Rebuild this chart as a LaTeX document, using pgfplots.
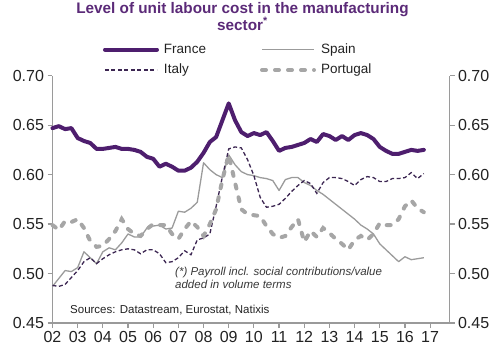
\documentclass[border=0pt]{standalone}
\usepackage{pgfplots}
\pgfplotsset{compat=1.18}
\usepackage{fontspec}
\setmainfont{Liberation Sans}
\definecolor{titlecol}{HTML}{5B2A78}
\definecolor{frcol}{HTML}{4E1E6E}
\definecolor{itcol}{HTML}{3C2652}
\definecolor{escol}{HTML}{9B9B9B}
\definecolor{ptcol}{HTML}{A6A6A6}
\definecolor{axcol}{HTML}{9A9A9A}
\definecolor{txtcol}{HTML}{222222}
\begin{document}
\begin{tikzpicture}
\path[use as bounding box] (-52.5pt,-34pt) rectangle (447.5pt,323pt);
\begin{axis}[
  at={(0pt,0pt)}, anchor=south west,
  scale only axis, width=397pt, height=247.3pt,
  xmin=2002, xmax=2017.77, ymin=0.45, ymax=0.70,
  axis x line*=bottom, axis y line*=left,
  axis line style={color=axcol, line width=1.2pt},
  xtick={2002,2003,2004,2005,2006,2007,2008,2009,2010,2011,2012,2013,2014,2015,2016,2017},
  xticklabels={02,03,04,05,06,07,08,09,10,11,12,13,14,15,16,17},
  ytick={0.45,0.50,0.55,0.60,0.65,0.70},
  tick align=outside, major tick length=5pt,
  tick style={color=axcol, line width=1.2pt},
  /pgf/number format/assume math mode=true,
  yticklabel style={/pgf/number format/.cd, fixed, fixed zerofill, precision=2},
  tick label style={font=\fontsize{16}{16}\selectfont, text=txtcol},
  clip=false,
  legend columns=2,
  legend cell align=left,
  legend image code/.code={\draw[#1] (0pt,0pt) -- (52pt,0pt);},
  legend style={draw=none, fill=none, inner sep=0pt, outer sep=0pt,
    at={(axis description cs:0.1272,1.1302)}, anchor=north west,
    font=\fontsize{13.5}{15}\selectfont, text=txtcol,
    nodes={inner sep=0pt, text height=9.5pt, text depth=2.5pt},
    column sep=5pt, row sep=8.5pt,
    /tikz/every even column/.append style={column sep=54pt}},
]
\addplot[frcol, line width=4pt, line join=round, line cap=round] coordinates {
(2002.00,0.647)(2002.25,0.649)(2002.50,0.646)(2002.75,0.647)
(2003.00,0.637)(2003.25,0.634)(2003.50,0.632)(2003.75,0.626)
(2004.00,0.626)(2004.25,0.627)(2004.50,0.628)(2004.75,0.626)
(2005.00,0.626)(2005.25,0.625)(2005.50,0.623)(2005.75,0.618)
(2006.00,0.616)(2006.25,0.608)(2006.50,0.611)(2006.75,0.608)
(2007.00,0.604)(2007.25,0.604)(2007.50,0.607)(2007.75,0.613)
(2008.00,0.622)(2008.25,0.633)(2008.50,0.638)(2008.75,0.655)
(2009.00,0.672)(2009.25,0.655)(2009.50,0.643)(2009.75,0.639)
(2010.00,0.642)(2010.25,0.640)(2010.50,0.643)(2010.75,0.634)
(2011.00,0.624)(2011.25,0.627)(2011.50,0.628)(2011.75,0.630)
(2012.00,0.632)(2012.25,0.636)(2012.50,0.633)(2012.75,0.641)
(2013.00,0.639)(2013.25,0.635)(2013.50,0.639)(2013.75,0.635)
(2014.00,0.640)(2014.25,0.642)(2014.50,0.640)(2014.75,0.636)
(2015.00,0.628)(2015.25,0.624)(2015.50,0.621)(2015.75,0.621)
(2016.00,0.623)(2016.25,0.625)(2016.50,0.624)(2016.75,0.625)
};
\addlegendentry{France}
\addplot[escol, line width=1.3pt, line join=round] coordinates {
(2002.00,0.487)(2002.25,0.495)(2002.50,0.503)(2002.75,0.502)
(2003.00,0.506)(2003.25,0.522)(2003.50,0.516)(2003.75,0.510)
(2004.00,0.522)(2004.25,0.526)(2004.50,0.524)(2004.75,0.531)
(2005.00,0.540)(2005.25,0.537)(2005.50,0.537)(2005.75,0.546)
(2006.00,0.548)(2006.25,0.549)(2006.50,0.545)(2006.75,0.546)
(2007.00,0.563)(2007.25,0.562)(2007.50,0.566)(2007.75,0.572)
(2008.00,0.612)(2008.25,0.605)(2008.50,0.600)(2008.75,0.597)
(2009.00,0.620)(2009.25,0.610)(2009.50,0.603)(2009.75,0.600)
(2010.00,0.599)(2010.25,0.597)(2010.50,0.596)(2010.75,0.594)
(2011.00,0.584)(2011.25,0.595)(2011.50,0.597)(2011.75,0.597)
(2012.00,0.592)(2012.25,0.589)(2012.50,0.584)(2012.75,0.580)
(2013.00,0.575)(2013.25,0.570)(2013.50,0.565)(2013.75,0.560)
(2014.00,0.555)(2014.25,0.549)(2014.50,0.545)(2014.75,0.540)
(2015.00,0.530)(2015.25,0.524)(2015.50,0.518)(2015.75,0.512)
(2016.00,0.517)(2016.25,0.514)(2016.50,0.515)(2016.75,0.516)
};
\addlegendentry{Spain}
\addplot[itcol, line width=1.3pt, dash pattern=on 4pt off 2.5pt] coordinates {
(2002.00,0.488)(2002.25,0.487)(2002.50,0.489)(2002.75,0.496)
(2003.00,0.503)(2003.25,0.512)(2003.50,0.516)(2003.75,0.510)
(2004.00,0.515)(2004.25,0.519)(2004.50,0.522)(2004.75,0.524)
(2005.00,0.525)(2005.25,0.524)(2005.50,0.520)(2005.75,0.524)
(2006.00,0.524)(2006.25,0.520)(2006.50,0.511)(2006.75,0.512)
(2007.00,0.516)(2007.25,0.523)(2007.50,0.519)(2007.75,0.534)
(2008.00,0.536)(2008.25,0.540)(2008.50,0.568)(2008.75,0.598)
(2009.00,0.626)(2009.25,0.628)(2009.50,0.627)(2009.75,0.615)
(2010.00,0.599)(2010.25,0.577)(2010.50,0.567)(2010.75,0.568)
(2011.00,0.570)(2011.25,0.576)(2011.50,0.583)(2011.75,0.589)
(2012.00,0.594)(2012.25,0.591)(2012.50,0.581)(2012.75,0.592)
(2013.00,0.597)(2013.25,0.597)(2013.50,0.596)(2013.75,0.593)
(2014.00,0.589)(2014.25,0.595)(2014.50,0.598)(2014.75,0.597)
(2015.00,0.593)(2015.25,0.593)(2015.50,0.596)(2015.75,0.596)
(2016.00,0.597)(2016.25,0.602)(2016.50,0.596)(2016.75,0.601)
};
\addlegendentry{Italy}
\addplot[ptcol, line width=4pt, line cap=round, dash pattern=on 4pt off 9pt] coordinates {
(2002.00,0.549)(2002.25,0.544)(2002.50,0.553)(2002.75,0.552)
(2003.00,0.555)(2003.25,0.546)(2003.50,0.533)(2003.75,0.527)
(2004.00,0.528)(2004.25,0.535)(2004.50,0.543)(2004.75,0.555)
(2005.00,0.545)(2005.25,0.540)(2005.50,0.538)(2005.75,0.545)
(2006.00,0.550)(2006.25,0.549)(2006.50,0.549)(2006.75,0.540)
(2007.00,0.535)(2007.25,0.545)(2007.50,0.553)(2007.75,0.547)
(2008.00,0.538)(2008.25,0.550)(2008.50,0.565)(2008.75,0.595)
(2009.00,0.620)(2009.25,0.592)(2009.50,0.565)(2009.75,0.560)
(2010.00,0.559)(2010.25,0.558)(2010.50,0.548)(2010.75,0.540)
(2011.00,0.536)(2011.25,0.538)(2011.50,0.547)(2011.75,0.555)
(2012.00,0.532)(2012.25,0.543)(2012.50,0.537)(2012.75,0.546)
(2013.00,0.541)(2013.25,0.535)(2013.50,0.530)(2013.75,0.524)
(2014.00,0.534)(2014.25,0.538)(2014.50,0.534)(2014.75,0.540)
(2015.00,0.551)(2015.25,0.549)(2015.50,0.549)(2015.75,0.555)
(2016.00,0.568)(2016.25,0.574)(2016.50,0.566)(2016.75,0.562)
};
\addlegendentry{Portugal}
\end{axis}
\begin{axis}[
  at={(0pt,0pt)}, anchor=south west,
  scale only axis, width=397pt, height=247.3pt,
  xmin=2002, xmax=2017.77, ymin=0.45, ymax=0.70,
  axis x line=none, axis y line*=right,
  axis line style={color=axcol, line width=1.2pt},
  ytick={0.45,0.50,0.55,0.60,0.65,0.70},
  tick align=outside, major tick length=5pt,
  tick style={color=axcol, line width=1.2pt},
  /pgf/number format/assume math mode=true,
  yticklabel style={/pgf/number format/.cd, fixed, fixed zerofill, precision=2},
  tick label style={font=\fontsize{16}{16}\selectfont, text=txtcol},
]
\addplot[draw=none] coordinates {(2002,0.5)};
\end{axis}
\node[anchor=north, inner sep=0pt, align=center, font=\bfseries\fontsize{15.3}{15}\selectfont, text=titlecol] at (190pt,321pt) {Level of unit labour cost in the manufacturing\\sector\textsuperscript{*}};
\node[anchor=base west, inner sep=0pt, font=\itshape\fontsize{11.5}{13}\selectfont, text=txtcol!90] at (122.5pt,48pt) {(*) Payroll incl. social contributions/value};
\node[anchor=base west, inner sep=0pt, font=\itshape\fontsize{11.5}{13}\selectfont, text=txtcol!90] at (122.5pt,35pt) {added in volume terms};
\node[anchor=base west, inner sep=0pt, font=\fontsize{11.5}{13}\selectfont, text=txtcol] at (17.5pt,10pt) {Sources: Datastream, Eurostat, Natixis};
\end{tikzpicture}
\end{document}
